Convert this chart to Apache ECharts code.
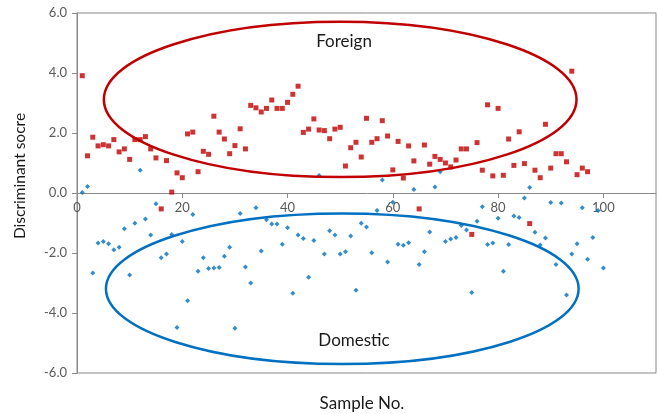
<!DOCTYPE html>
<html>
<head>
<meta charset="utf-8">
<script src="https://cdn.jsdelivr.net/npm/echarts@6/dist/echarts.min.js"></script>
<style>
html,body{margin:0;padding:0;background:#fff;}
#chart{width:658px;height:414px;}
</style>
</head>
<body>
<div id="chart"></div>
<script>
// Foreign samples (x = 1..97)
var foreignScores = [3.91,1.24,1.86,1.57,1.61,1.57,1.78,1.37,1.47,1.12,
1.78,1.78,1.88,1.47,1.17,-0.53,1.08,0.03,0.67,0.51,
1.97,2.03,0.71,1.39,1.29,2.56,2.03,1.80,1.31,1.58,
2.14,1.47,2.92,2.84,2.70,2.82,3.10,2.82,2.82,3.02,
3.29,3.56,2.02,2.13,2.47,2.10,2.08,1.81,2.13,2.19,
0.90,1.51,1.69,1.20,2.49,1.69,1.81,2.41,1.90,0.77,
1.72,0.50,1.57,1.07,-0.53,1.60,0.96,1.22,1.12,1.00,
0.87,1.10,1.47,1.47,-1.38,1.68,0.76,2.94,0.57,2.82,
0.59,1.80,0.92,2.04,0.98,-1.02,0.76,0.51,2.29,0.83,
1.31,1.31,1.04,4.06,0.61,0.83,0.71];
// Domestic samples (x = 1..100)
var domesticScores = [0.02,0.22,-2.67,-1.67,-1.62,-1.69,-1.89,-1.81,-1.19,-2.73,
-1.01,0.76,-0.87,-1.40,-0.36,-2.16,-2.03,-1.38,-4.48,-1.62,
-3.59,-0.72,-2.61,-2.16,-2.52,-2.50,-2.48,-2.11,-1.81,-4.51,
-0.68,-2.47,-3.00,-0.49,-1.93,-0.89,-1.03,-1.03,-1.71,-1.16,
-3.34,-1.40,-1.52,-2.81,-1.58,0.58,-2.03,-1.26,-1.40,-2.03,
-1.96,-1.43,-3.24,-1.01,-1.13,-1.99,-0.58,0.43,-2.30,-0.31,
-1.71,-1.74,-1.66,0.12,-2.38,-1.96,-1.30,0.20,0.71,-1.62,
-1.53,-1.48,-1.08,-1.23,-3.32,-0.94,-0.46,-1.72,-1.67,-0.84,
-2.61,-1.72,-0.77,-0.82,-0.17,0.18,-1.31,-1.73,-1.50,-0.32,
-2.38,-0.33,-3.40,-2.03,-1.69,-0.49,-2.21,-1.48,-0.58,-2.50];
// Group ellipses: [centerX, centerY, radiusX, radiusY] in data units
var foreignEllipse = [50.0, 3.12, 44.9, 2.59];
var domesticEllipse = [50.4, -3.19, 44.9, 2.51];
var groupLabels = ['Foreign', 'Domestic'];
var xTitle = 'Sample No.';
var yTitle = 'Discriminant socre';

function toPoints(arr){ return arr.map(function(v,i){ return [i+1, v]; }); }

var FONT = 'Lato, "Liberation Sans", sans-serif';
var chart = echarts.init(document.getElementById('chart'), null, {renderer:'canvas'});

function ellipseSeries(params, color){
  return {
    type:'custom', clip:false, z:5, silent:true,
    data:[params],
    renderItem:function(p, api){
      var c = api.coord([api.value(0), api.value(1)]);
      var s = api.size([api.value(2), api.value(3)]);
      return {type:'ellipse', shape:{cx:c[0], cy:c[1], rx:s[0], ry:s[1]},
        style:{fill:'none', stroke:color, lineWidth:2.5}};
    }
  };
}

chart.setOption({
  animation:false,
  backgroundColor:'#fff',
  grid:{left:77, right:2, top:13, bottom:41, show:true, borderColor:'#898989', borderWidth:1},
  xAxis:{type:'value', min:0, max:110, interval:20, position:'bottom', offset:-180,
    axisLine:{onZero:true, lineStyle:{color:'#898989', width:1}},
    axisTick:{show:true, length:5, lineStyle:{color:'#898989'}},
    axisLabel:{color:'#595959', fontSize:13, fontFamily:FONT, margin:8, showMaxLabel:false},
    splitLine:{show:false}},
  yAxis:{type:'value', min:-6, max:6, interval:2,
    axisLine:{show:true, onZero:false, lineStyle:{color:'#898989', width:1}},
    axisTick:{show:true, length:5, lineStyle:{color:'#898989'}},
    axisLabel:{color:'#595959', fontSize:13, fontFamily:FONT, margin:10,
      formatter:function(v){ return v.toFixed(1); }},
    splitLine:{show:false}},
  series:[
    {type:'scatter', name:'Foreign', data:toPoints(foreignScores), symbol:'rect', symbolSize:5,
      itemStyle:{color:'#C00000'}, z:3},
    {type:'scatter', name:'Domestic', data:toPoints(domesticScores), symbol:'diamond', symbolSize:5,
      itemStyle:{color:'#0070C0'}, z:3},
    ellipseSeries(foreignEllipse, '#C00000'),
    ellipseSeries(domesticEllipse, '#0070C0')
  ],
  graphic:[
    {type:'text', x:344, y:42, style:{text:groupLabels[0], fill:'#1a1a1a', font:'17px '+FONT, textAlign:'center', textVerticalAlign:'middle'}},
    {type:'text', x:354, y:341, style:{text:groupLabels[1], fill:'#1a1a1a', font:'17px '+FONT, textAlign:'center', textVerticalAlign:'middle'}},
    {type:'text', x:362, y:404, style:{text:xTitle, fill:'#1a1a1a', font:'17px '+FONT, textAlign:'center', textVerticalAlign:'middle'}},
    {type:'text', x:20, y:176, rotation:Math.PI/2, style:{text:yTitle, fill:'#1a1a1a', font:'15.5px '+FONT, textAlign:'center', textVerticalAlign:'middle'}}
  ]
});
</script>
</body>
</html>
